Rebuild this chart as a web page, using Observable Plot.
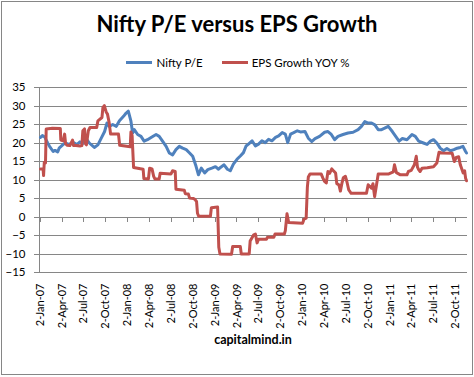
<!DOCTYPE html>
<html>
<head>
<meta charset="utf-8">
<script src="https://cdn.jsdelivr.net/npm/d3@7"></script>
<script src="https://cdn.jsdelivr.net/npm/@observablehq/plot@0.6"></script>
<style>
  html, body { margin: 0; padding: 0; background: #fff; }
  #chart { position: relative; width: 474px; height: 377px; overflow: hidden; font-family: Lato, "Open Sans", sans-serif; color: #000; }
  #frame { position: absolute; left: 1px; top: 1px; width: 470px; height: 372px; border: 1px solid #868686; box-sizing: content-box; }
  #plot { position: absolute; left: 0; top: 0; }
  #title { position: absolute; left: 0; top: 13px; width: 474px; text-align: center; font-weight: bold; font-size: 22px; line-height: 22px; white-space: nowrap; }
  #legend { position: absolute; left: 0; top: 56px; width: 476px; height: 13px; display: flex; justify-content: center; align-items: center; font-size: 11.5px; line-height: 13px; white-space: nowrap; }
  #legend .sw { display: inline-block; width: 26px; height: 3px; margin-right: 4px; }
  #legend .item { display: flex; align-items: center; }
  #legend .item + .item { margin-left: 19px; }
  #caption { position: absolute; left: 39px; top: 333px; width: 428px; text-align: center; font-weight: bold; font-size: 12.5px; line-height: 13px; white-space: nowrap; }
</style>
</head>
<body>
<div id="chart">
  <div id="frame"></div>
  <div id="plot"></div>
  <div id="title"></div>
  <div id="legend"></div>
  <div id="caption"></div>
</div>
<script>
const titleText = "Nifty P/E versus EPS Growth";
const captionText = "capitalmind.in";
const seriesNames = ["Nifty P/E", "EPS Growth YOY %"];
const seriesColors = ["#4F81BD", "#C0504D"];

const yTicks = [-15, -10, -5, 0, 5, 10, 15, 20, 25, 30, 35];
const xTickLabels = ["2007-01-02","2007-04-02","2007-07-02","2007-10-02","2008-01-02","2008-04-02","2008-07-02","2008-10-02",
  "2009-01-02","2009-04-02","2009-07-02","2009-10-02","2010-01-02","2010-04-02","2010-07-02","2010-10-02",
  "2011-01-02","2011-04-02","2011-07-02","2011-10-02"];
const xDomain = ["2006-12-29", "2011-11-21"];

const peDates = ["2007-01-02","2007-01-10","2007-01-20","2007-02-01","2007-02-09","2007-02-24","2007-03-04","2007-03-15","2007-03-21",
  "2007-04-05","2007-04-15","2007-05-01","2007-05-18","2007-06-04","2007-06-16","2007-06-27","2007-07-11","2007-07-25","2007-08-15",
  "2007-08-30","2007-09-13","2007-09-27","2007-10-07","2007-10-17","2007-10-31","2007-11-15","2007-11-28","2007-12-15","2007-12-26",
  "2008-01-04","2008-01-15","2008-01-22","2008-01-29","2008-02-12","2008-02-26","2008-03-10","2008-03-24","2008-04-08","2008-04-29",
  "2008-05-12","2008-05-26","2008-06-10","2008-06-23","2008-07-07","2008-07-21","2008-08-04","2008-08-18","2008-09-02","2008-09-16",
  "2008-09-29","2008-10-13","2008-10-23","2008-11-04","2008-11-18","2008-12-01","2008-12-18","2009-01-02","2009-01-15","2009-01-23",
  "2009-02-07","2009-02-21","2009-03-05","2009-03-18","2009-04-02","2009-04-16","2009-04-29","2009-05-10","2009-05-20","2009-06-04",
  "2009-06-18","2009-07-01","2009-07-15","2009-07-29","2009-08-12","2009-08-26","2009-09-10","2009-09-23","2009-10-08","2009-10-21",
  "2009-10-31","2009-11-12","2009-11-25","2009-12-10","2009-12-23","2010-01-11","2010-01-25","2010-02-08","2010-02-22","2010-03-13",
  "2010-04-03","2010-04-17","2010-05-01","2010-05-15","2010-05-29","2010-06-19","2010-07-10","2010-07-31","2010-08-21","2010-09-04",
  "2010-09-18","2010-10-02","2010-10-16","2010-10-30","2010-11-13","2010-11-27","2010-12-10","2010-12-25","2011-01-11","2011-01-25",
  "2011-02-08","2011-02-22","2011-03-13","2011-04-03","2011-04-17","2011-05-01","2011-05-21","2011-06-05","2011-06-19","2011-07-02",
  "2011-07-16","2011-07-30","2011-08-13","2011-08-27","2011-09-11","2011-09-25","2011-10-09","2011-10-22","2011-11-02","2011-11-13",
  "2011-11-17"];
const peValues = [21.5,22.0,21.6,20.0,19.1,17.7,18.0,17.6,18.6,
  19.5,20.0,19.6,20.2,19.6,20.3,19.8,21.3,20.0,18.8,
  19.5,21.3,23.1,25.4,24.5,25.0,24.5,26.0,27.2,28.1,
  28.6,25.9,22.7,23.6,22.3,21.8,20.5,20.9,21.5,22.3,
  21.8,20.5,19.1,17.3,16.8,18.2,19.1,18.6,18.2,17.3,
  16.4,13.7,11.4,13.2,11.9,12.8,13.2,13.6,12.9,13.4,
  14.1,12.9,12.5,14.3,15.6,16.5,17.4,19.2,19.7,20.6,
  19.2,19.7,20.6,20.1,21.0,20.6,21.5,21.9,22.8,22.4,
  20.1,22.4,22.8,23.3,23.0,23.1,21.3,20.4,21.2,21.8,
  22.9,23.1,22.3,20.9,21.8,22.3,22.7,22.9,23.6,24.5,
  25.8,25.4,25.4,24.9,23.6,23.6,24.0,24.5,23.1,21.8,
  20.5,21.2,20.9,22.3,21.8,20.5,20.0,19.6,20.5,20.9,
  20.0,18.6,17.9,18.5,17.9,18.2,18.6,18.8,19.1,17.7,
  17.3];

const epsDates = ["2007-01-02","2007-01-13","2007-01-15","2007-01-18","2007-01-23","2007-01-26","2007-02-21","2007-03-26","2007-03-28",
  "2007-04-07","2007-04-13","2007-04-17","2007-04-23","2007-05-05","2007-05-16","2007-05-20","2007-05-30","2007-06-16","2007-06-24",
  "2007-06-28","2007-07-05","2007-07-09","2007-07-13","2007-07-21","2007-07-28","2007-08-25","2007-08-30","2007-09-16","2007-09-20",
  "2007-09-26","2007-10-04","2007-10-09","2007-10-16","2007-10-22","2007-11-24","2007-11-29","2008-01-12","2008-01-15","2008-01-20",
  "2008-01-22","2008-01-26","2008-03-06","2008-03-09","2008-03-28","2008-04-02","2008-04-12","2008-04-19","2008-04-24","2008-05-12",
  "2008-05-16","2008-06-30","2008-07-07","2008-07-18","2008-07-21","2008-08-25","2008-08-29","2008-09-11","2008-09-16","2008-10-02",
  "2008-10-09","2008-10-15","2008-10-19","2008-10-24","2008-12-12","2008-12-16","2009-01-11","2009-01-16","2009-01-21","2009-03-10",
  "2009-03-15","2009-04-16","2009-04-20","2009-05-23","2009-05-27","2009-06-11","2009-06-18","2009-06-25","2009-07-01","2009-08-03",
  "2009-08-07","2009-09-03","2009-09-08","2009-10-17","2009-10-21","2009-10-28","2009-11-04","2010-01-01","2010-01-07","2010-01-16",
  "2010-01-21","2010-01-25","2010-02-01","2010-03-20","2010-03-27","2010-04-03","2010-04-10","2010-04-17","2010-04-24","2010-05-03",
  "2010-05-10","2010-05-19","2010-05-24","2010-06-02","2010-06-08","2010-06-14","2010-06-20","2010-06-29","2010-07-05","2010-07-13",
  "2010-07-23","2010-09-25","2010-10-02","2010-10-16","2010-10-22","2010-10-29","2010-11-06","2010-11-13","2010-12-25","2011-01-15",
  "2011-01-20","2011-01-28","2011-02-14","2011-03-13","2011-03-19","2011-03-31","2011-04-13","2011-04-21","2011-04-26","2011-05-01",
  "2011-05-07","2011-05-15","2011-06-06","2011-07-02","2011-07-16","2011-07-25","2011-08-06","2011-09-18","2011-09-27","2011-10-05",
  "2011-10-15","2011-10-22","2011-11-03","2011-11-09","2011-11-13","2011-11-17"];
const epsValues = [13.0,13.0,11.2,14.8,14.6,23.8,24.0,23.9,20.8,
  20.6,22.4,19.8,19.4,19.3,20.8,19.3,19.3,19.2,19.3,
  23.3,23.8,19.8,19.5,23.3,24.2,24.2,26.0,26.9,29.6,
  30.1,28.3,27.8,25.5,22.4,22.4,19.4,19.0,23.0,22.0,
  19.0,13.4,12.9,10.4,10.3,13.2,13.0,11.0,10.3,10.3,
  11.8,11.6,12.5,12.3,7.5,7.2,6.3,6.2,5.1,5.0,
  4.7,4.2,1.0,0.2,0.2,2.5,2.7,-8.2,-10.0,-10.1,
  -8.0,-8.0,-10.0,-10.0,-6.5,-4.8,-4.6,-7.0,-6.0,-6.0,
  -5.5,-5.5,-4.6,-4.6,-3.7,0.9,-1.5,-1.7,-0.6,-0.3,
  8.0,10.8,11.6,11.6,10.5,9.6,9.2,12.3,11.8,13.0,
  12.5,11.9,9.0,8.7,7.0,9.0,10.6,11.0,9.6,7.3,
  6.4,6.4,8.7,7.8,9.0,5.5,8.7,11.6,11.6,12.2,
  14.1,12.0,11.4,11.4,12.3,12.6,14.1,16.4,13.5,12.8,
  12.3,13.2,13.3,13.6,14.6,17.5,17.3,17.2,15.0,16.1,
  16.3,14.1,11.9,12.5,10.5,9.8];

const GRID = "#868686";
const parse = (s) => new Date(s + "T00:00:00Z");
const peData = peDates.map((d, i) => ({date: parse(d), value: peValues[i]}));
const epsData = epsDates.map((d, i) => ({date: parse(d), value: epsValues[i]}));
const xTicks = xTickLabels.map(parse);
const fmt = d3.utcFormat("%-d-%b-%y");

const chart = Plot.plot({
  width: 474,
  height: 377,
  marginLeft: 39,
  marginRight: 7,
  marginTop: 87,
  marginBottom: 105,
  style: {fontFamily: "Lato, 'Open Sans', sans-serif", fontSize: "11px", color: "#000", background: "transparent", overflow: "visible"},
  x: {type: "utc", domain: xDomain.map(parse)},
  y: {domain: [yTicks[0], yTicks[yTicks.length - 1]]},
  marks: [
    Plot.ruleY(yTicks, {stroke: GRID, strokeWidth: 1, insetLeft: -5, shapeRendering: "crispEdges"}),
    Plot.ruleX(xTicks, {y1: 0, y2: 0, insetBottom: -5, stroke: GRID, shapeRendering: "crispEdges"}),
    Plot.ruleX([parse(xDomain[0])], {stroke: GRID, shapeRendering: "crispEdges"}),
    Plot.axisY({ticks: yTicks, tickSize: 0, tickPadding: 14, label: null, fontSize: 11.5}),
    Plot.axisX({ticks: xTicks, tickFormat: fmt, tickRotate: -90, tickSize: 0, tickPadding: 11, label: null, fontSize: 11}),
    Plot.line(peData, {x: "date", y: "value", stroke: seriesColors[0], strokeWidth: 3, strokeLinejoin: "round"}),
    Plot.line(epsData, {x: "date", y: "value", stroke: seriesColors[1], strokeWidth: 3, strokeLinejoin: "round"})
  ]
});
document.getElementById("plot").appendChild(chart);

document.getElementById("title").textContent = titleText;
document.getElementById("caption").textContent = captionText;
const legend = document.getElementById("legend");
seriesNames.forEach((name, i) => {
  const item = document.createElement("span");
  item.className = "item";
  const sw = document.createElement("span");
  sw.className = "sw";
  sw.style.background = seriesColors[i];
  const label = document.createElement("span");
  label.textContent = name;
  item.appendChild(sw);
  item.appendChild(label);
  legend.appendChild(item);
});
</script>
</body>
</html>
